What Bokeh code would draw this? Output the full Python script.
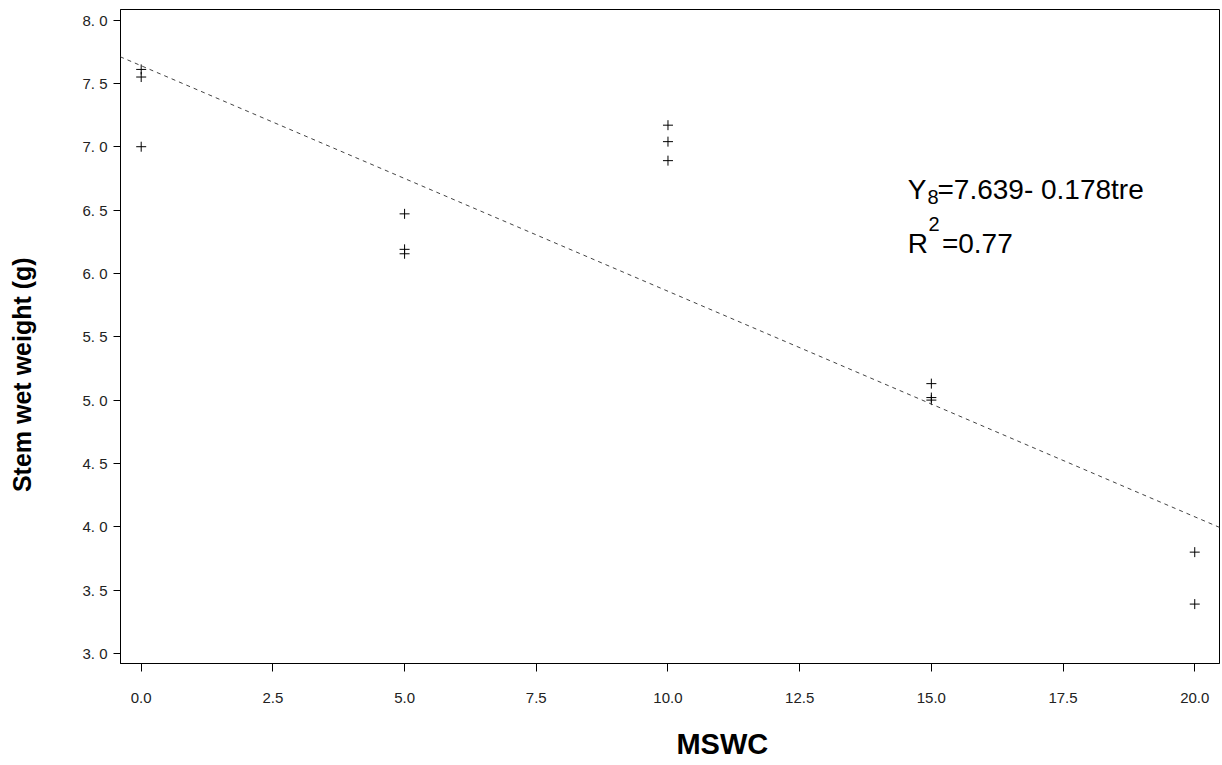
from bokeh.plotting import figure
from bokeh.models import (Range1d, FixedTicker, Label, Slope, ColumnDataSource,
                          CustomJSTickFormatter)
from bokeh.embed import file_html
from bokeh.resources import INLINE

# Observations: moisture level (MSWC) vs stem wet weight
mswc = [0, 0, 0, 5, 5, 5, 10, 10, 10, 15, 15, 15, 20, 20]
stem_wet_weight = [7.61, 7.55, 7.00, 6.47, 6.19, 6.155, 7.17, 7.04, 6.89, 5.13, 5.02, 5.00, 3.80, 3.39]

# Fitted regression
intercept = 7.639
slope = -0.178
r_squared = 0.77

x_ticks = [0.0, 2.5, 5.0, 7.5, 10.0, 12.5, 15.0, 17.5, 20.0]
x_tick_labels = ["0.0", "2.5", "5.0", "7.5", "10.0", "12.5", "15.0", "17.5", "20.0"]
y_ticks = [3.0, 3.5, 4.0, 4.5, 5.0, 5.5, 6.0, 6.5, 7.0, 7.5, 8.0]
y_tick_labels = ["3. 0", "3. 5", "4. 0", "4. 5", "5. 0", "5. 5", "6. 0", "6. 5", "7. 0", "7. 5", "8. 0"]

x_title = "MSWC"
y_title = "Stem wet weight (g)"

FONT = "Liberation Sans"
NBSP = "\u00a0"

p = figure(width=1222, height=765, output_backend="svg", toolbar_location=None,
           x_range=Range1d(-0.393, 20.47), y_range=Range1d(2.921, 8.083),
           min_border_left=120, min_border_right=3, min_border_top=9, min_border_bottom=102)

p.background_fill_color = "white"
p.border_fill_color = "white"
p.outline_line_color = "black"
p.outline_line_width = 1
p.xgrid.visible = False
p.ygrid.visible = False

lookup_js = """
const i = ticks_.findIndex(t => Math.abs(t - tick) < 1e-9);
return i >= 0 ? labels_[i] : tick.toFixed(1);
"""

for ax in (p.xaxis, p.yaxis):
    ax.axis_line_color = "black"
    ax.major_tick_line_color = "black"
    ax.minor_tick_line_color = None
    ax.major_tick_in = 0
    ax.major_label_text_font = FONT
    ax.major_label_text_color = "#222222"
    ax.major_label_text_font_size = "15px"
    ax.axis_label_text_font = FONT
    ax.axis_label_text_font_style = "bold"
    ax.axis_label_text_color = "black"

p.xaxis.ticker = FixedTicker(ticks=x_ticks)
p.xaxis.formatter = CustomJSTickFormatter(args=dict(ticks_=x_ticks, labels_=x_tick_labels),
                                          code=lookup_js)
p.xaxis.major_tick_out = 8
p.xaxis.major_label_standoff = 21
# leading non-breaking spaces nudge the centred title to the right
p.xaxis.axis_label = NBSP * 13 + x_title
p.xaxis.axis_label_text_font_size = "29px"
p.xaxis.axis_label_standoff = 22

p.yaxis.ticker = FixedTicker(ticks=y_ticks)
p.yaxis.formatter = CustomJSTickFormatter(args=dict(ticks_=y_ticks, labels_=y_tick_labels),
                                          code=lookup_js)
p.yaxis.major_tick_out = 7
p.yaxis.major_label_standoff = 6
p.yaxis.major_label_text_baseline = "top"
# trailing non-breaking spaces nudge the rotated title downward
p.yaxis.axis_label = y_title + NBSP * 11
p.yaxis.axis_label_text_font_size = "25px"
p.yaxis.axis_label_standoff = 43

# Fitted line across the full frame
p.add_layout(Slope(gradient=slope, y_intercept=intercept, line_color="#444444",
                   line_width=1, line_dash="4 4"))

src = ColumnDataSource(data=dict(x=mswc, y=stem_wet_weight))
p.scatter("x", "y", source=src, marker="cross", size=10, line_color="black", line_width=1)

# Equation and fit statistic
big = "28px"
small = "20px"
p.add_layout(Label(x=14.55, y=6.662, text="Y", text_font=FONT, text_font_size=big,
                   text_baseline="alphabetic", text_color="black"))
p.add_layout(Label(x=14.926, y=6.607, text="8", text_font=FONT, text_font_size=small,
                   text_baseline="alphabetic", text_color="black"))
p.add_layout(Label(x=15.116, y=6.662, text=f"={intercept}- {abs(slope)}tre", text_font=FONT,
                   text_font_size=big, text_baseline="alphabetic", text_color="black"))
p.add_layout(Label(x=14.55, y=6.236, text="R", text_font=FONT, text_font_size=big,
                   text_baseline="alphabetic", text_color="black"))
p.add_layout(Label(x=14.945, y=6.39, text="2", text_font=FONT, text_font_size=small,
                   text_baseline="alphabetic", text_color="black"))
p.add_layout(Label(x=15.2, y=6.236, text=f"={r_squared}", text_font=FONT, text_font_size=big,
                   text_baseline="alphabetic", text_color="black"))

open("out.html", "w").write(file_html(p, INLINE))
